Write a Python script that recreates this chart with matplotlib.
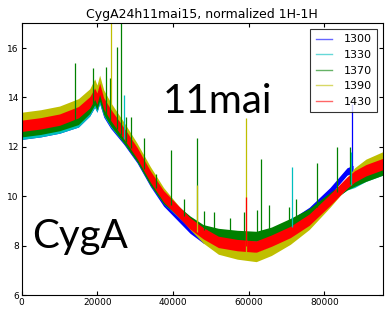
import numpy as np
import matplotlib
matplotlib.use("Agg")
import matplotlib.pyplot as plt
from matplotlib.lines import Line2D

x = [0, 5000, 10000, 15000, 18000, 19300, 19900, 20600, 21700, 23500,
     27000, 30500, 34000, 37500, 41000, 44500, 48000, 52000, 57000, 62000,
     66000, 71000, 76000, 81500, 86000, 88000, 91000, 95440]

y_1330 = [12.45, 12.55, 12.7, 12.95, 13.4, 13.75, 13.55, 13.9, 13.4, 12.95,
          12.3, 11.55, 10.6, 9.85, 9.35, 8.85, 8.45, 8.2, 8.1, 8.05,
          8.3, 8.7, 9.2, 9.9, 10.4, 10.5, 10.75, 11.0]
y_1370 = [12.6, 12.7, 12.85, 13.1, 13.55, 13.9, 13.7, 14.05, 13.5, 13.05,
          12.35, 11.6, 10.65, 9.9, 9.45, 9.0, 8.65, 8.5, 8.42, 8.38,
          8.55, 8.9, 9.3, 9.95, 10.45, 10.6, 10.8, 11.05]
y_1390 = [13.2, 13.3, 13.45, 13.75, 14.15, 14.55, 14.3, 14.7, 14.1, 13.6,
          12.8, 11.95, 11.0, 10.15, 9.5, 8.85, 8.3, 7.85, 7.65, 7.55,
          7.8, 8.25, 8.85, 9.75, 10.55, 10.95, 11.3, 11.6]
y_1430 = [12.85, 12.95, 13.1, 13.4, 13.8, 14.15, 13.95, 14.35, 13.75, 13.3,
          12.55, 11.75, 10.8, 10.0, 9.45, 8.9, 8.5, 8.15, 8.02, 7.96,
          8.2, 8.55, 9.05, 9.85, 10.55, 10.8, 11.05, 11.3]

# 1300 stops a bit before the end
x_1300 = [0, 5000, 10000, 15000, 18000, 19300, 19900, 20600, 21700, 23500,
          27000, 30500, 34000, 37500, 41000, 44500, 48000, 52000, 57000, 62000,
          66000, 71000, 76000, 81500, 86000, 87600]
y_1300 = [12.45, 12.55, 12.7, 12.95, 13.4, 13.75, 13.55, 13.9, 13.35, 12.9,
          12.25, 11.5, 10.55, 9.75, 9.2, 8.65, 8.25, 8.1, 8.05, 8.1,
          8.45, 8.9, 9.4, 10.2, 11.0, 11.1]

# narrow spikes sticking out of the bands (x, top)
spk_1300_x = [87300]
spk_1300_top = [13.75]
spk_1330_x = [27000, 71400, 87100]
spk_1330_top = [14.1, 11.2, 11.8]
spk_1370_x = [14200, 18800, 22400, 23300, 25200, 26300, 27700, 28900, 32300,
              35500, 39500, 43000, 46400, 48100, 50900, 55000, 58700, 62200,
              63200, 65300, 70700, 72500, 78100, 83400, 86800]
spk_1370_top = [15.4, 15.18, 15.24, 14.77, 16.05, 17.5, 13.2, 13.2, 12.34,
                10.9, 11.87, 9.9, 12.34, 9.4, 9.37, 9.1, 9.35, 9.44,
                11.49, 9.64, 9.58, 9.9, 11.33, 12.0, 12.0]
spk_1390_x = [23700, 46400, 59300]
spk_1390_top = [17.5, 10.45, 13.17]
spk_1430_x = [59300]
spk_1430_top = [9.98]

labels = ["1300", "1330", "1370", "1390", "1430"]
colors = ["b", "c", "g", "y", "r"]
width = [0.15, 0.15, 0.2, 0.2, 0.23]  # half thickness of each noisy band

series = [(x_1300, y_1300, spk_1300_x, spk_1300_top),
          (x, y_1330, spk_1330_x, spk_1330_top),
          (x, y_1370, spk_1370_x, spk_1370_top),
          (x, y_1390, spk_1390_x, spk_1390_top),
          (x, y_1430, spk_1430_x, spk_1430_top)]

fig = plt.figure(figsize=(3.86, 3.25), dpi=100)
ax = fig.add_axes([0.0562, 0.0923, 0.9353, 0.836])

for (xs, ys, sx, st), c, w in zip(series, colors, width):
    ys = np.array(ys)
    ax.fill_between(xs, ys - w, ys + w, color=c, lw=0)
    base = np.interp(sx, xs, ys)
    ax.vlines(sx, base, st, color=c, lw=0.9)

ax.set_xlim(0, 95440)
ax.set_ylim(6, 17)
ax.set_xticks([0, 20000, 40000, 60000, 80000])
ax.set_yticks([6, 8, 10, 12, 14, 16])
ax.tick_params(direction="in", top=True, right=True, length=3,
               labelsize=6.5, pad=2)
ax.set_title("CygA24h11mai15, normalized 1H-1H", fontsize=9, pad=4)

ax.text(0.03, 0.172, "CygA", transform=ax.transAxes, fontsize=29,
        family="Lato", va="baseline")
ax.text(0.39, 0.669, "11mai", transform=ax.transAxes, fontsize=29,
        family="Lato", va="baseline")

handles = [Line2D([], [], color=c, lw=1, alpha=0.6) for c in colors]
leg = ax.legend(handles, labels, loc="upper right", fontsize=8,
                fancybox=False, handlelength=1.5, handletextpad=1.0,
                borderaxespad=0.5, labelspacing=0.5, borderpad=0.5)
leg.get_frame().set_edgecolor("black")
leg.get_frame().set_linewidth(0.8)

fig.savefig("out.png", dpi=100)
